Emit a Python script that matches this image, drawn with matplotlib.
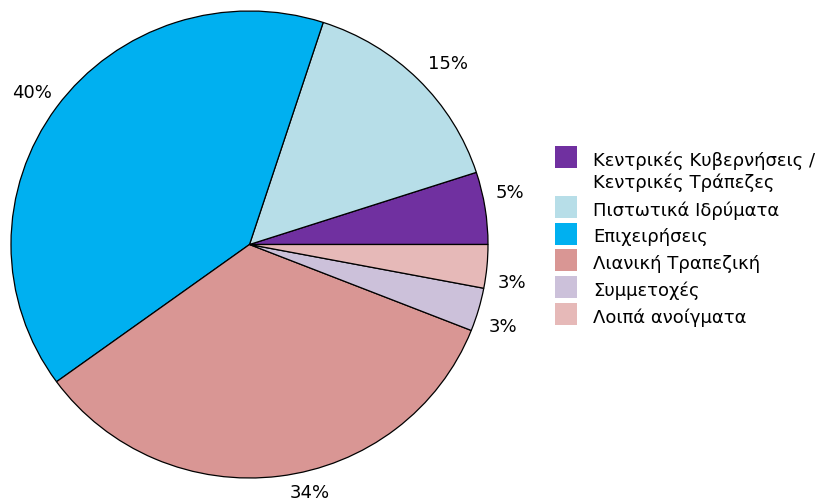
import matplotlib.pyplot as plt
from matplotlib.patches import Rectangle

# data
categories = [
    "Κεντρικές Κυβερνήσεις /\nΚεντρικές Τράπεζες",
    "Πιστωτικά Ιδρύματα",
    "Επιχειρήσεις",
    "Λιανική Τραπεζική",
    "Συμμετοχές",
    "Λοιπά ανοίγματα",
]
shares = [5, 15, 40, 34, 3, 3]
colors = ["#7030A0", "#B7DEE8", "#00B0F0", "#D99694", "#CCC1DA", "#E6B9B8"]

# label positions (data units, pie radius = 1)
label_xy = [(1.092, 0.221), (0.832, 0.774), (-0.914, 0.649),
            (0.254, -1.064), (1.063, -0.353), (1.099, -0.166)]

plt.rcParams["font.family"] = ["DejaVu Sans"]
FS = 13

W, H = 825, 503
fig = plt.figure(figsize=(W / 100, H / 100), dpi=100)

# pie axes (slightly elliptical like the original)
ax = fig.add_axes([11 / W, (H - 478) / H, 477 / W, 467 / H])
ax.pie(shares, colors=colors, startangle=0, counterclock=True,
       wedgeprops=dict(edgecolor="black", linewidth=0.9))
ax.set_aspect("auto")
ax.set_xlim(-1, 1)
ax.set_ylim(-1, 1)
ax.axis("off")

for (x, y), v in zip(label_xy, shares):
    ax.text(x, y, f"{v}%", ha="center", va="center", fontsize=FS,
            color="black", clip_on=False)

# manual legend
sq_left = 555
sq_size = 22
sq_tops = [146, 195.5, 222.5, 249, 276, 303]
text_x = 593
for lab, col, top in zip(categories, colors, sq_tops):
    fig.patches.append(Rectangle((sq_left / W, (H - top - sq_size) / H),
                                 sq_size / W, sq_size / H,
                                 transform=fig.transFigure,
                                 facecolor=col, edgecolor="none"))
    lines = lab.split("\n")
    for i, line in enumerate(lines):
        base = top + 20 + i * 22.3
        fig.text(text_x / W, (H - base) / H, line, ha="left",
                 va="baseline", fontsize=FS, color="black")

fig.savefig("out.png", dpi=100)
